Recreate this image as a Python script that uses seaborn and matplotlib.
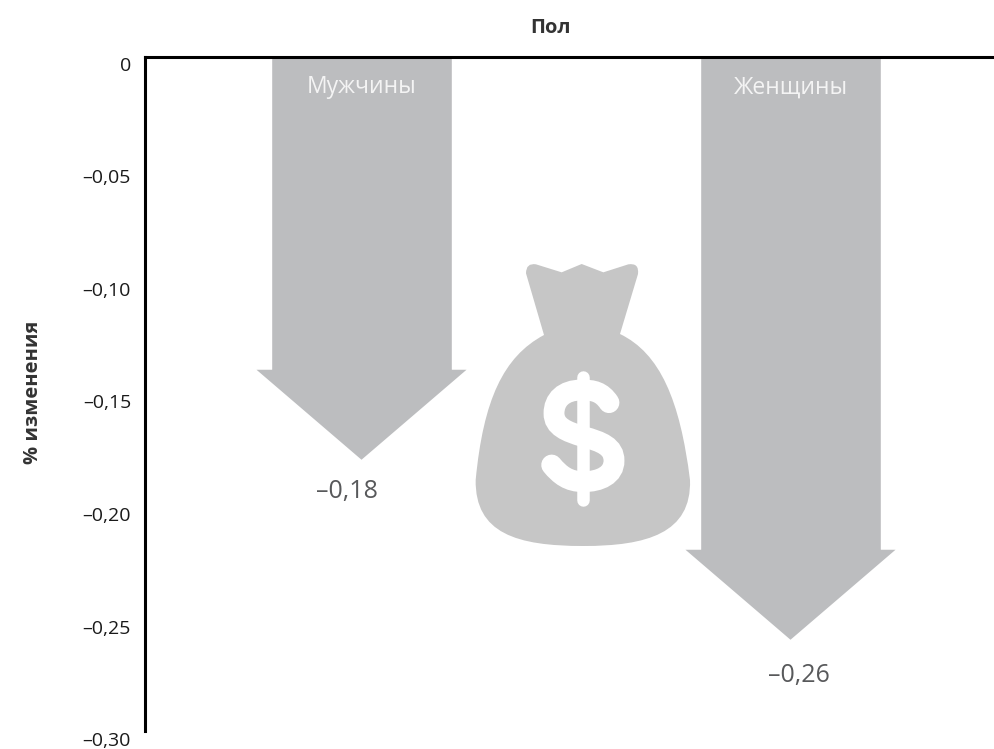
import matplotlib
matplotlib.use("Agg")
import matplotlib.pyplot as plt
from matplotlib.path import Path
from matplotlib.patches import PathPatch
import pandas as pd
import seaborn as sns

categories = ["Мужчины", "Женщины"]
tips = [-0.179, -0.259]
value_labels = ["–0,18", "–0,26"]
ticks = [0, -0.05, -0.10, -0.15, -0.20, -0.25, -0.30]
tick_labels = ["0", "–0,05", "–0,10", "–0,15", "–0,20", "–0,25", "–0,30"]

ARROW = "#bcbdbf"
BAG = "#c6c6c6"
TEXT = "#1a1a1a"
head_len = 0.0395
head_half = 0.2448

W, H = 995, 749
sns.set_style("white")
plt.rcParams["font.family"] = ["Open Sans", "DejaVu Sans"]

fig = plt.figure(figsize=(W / 100, H / 100), dpi=100)
ax = fig.add_axes([145 / W, 1 - 732 / H, 850 / W, 675 / H])

# shaft of each arrow is a bar, the head sits on top of it
df = pd.DataFrame({"cat": categories, "shaft": [t + head_len for t in tips]})
sns.barplot(data=df, x="cat", y="shaft", color=ARROW, saturation=1, width=0.422, ax=ax)
for i, t in enumerate(tips):
    top = t + head_len
    ax.fill([i - head_half, i + head_half, i], [top + 0.0005, top + 0.0005, t], color=ARROW, lw=0)
    ax.text(i - 0.035 if i == 0 else i + 0.02, t - (0.0143 if i == 0 else 0.0157), value_labels[i],
            ha="center", va="center", fontsize=18, color="#58595b")
    ax.text(i, -0.0134, categories[i], ha="center", va="center", fontsize=16.5, color="#f4f4f4")

ax.set_xlim(-0.5047, 1.4767)
ax.set_ylim(-0.30, 0)
ax.set_yticks(ticks)
ax.set_yticklabels(tick_labels, fontsize=14, color=TEXT, va="top")
ax.tick_params(axis="y", length=0, pad=10)
ax.set_xlabel("")
ax.set_ylabel("% изменения", fontsize=14.5, fontweight="bold", color="#333333")
ax.yaxis.set_label_coords((43 - 145) / 850, 1 - (392 - 57) / 675)
ax.set_title("Пол", fontsize=14.5, fontweight="bold", color="#333333", x=(551 - 145) / 850, pad=17)

sns.despine(ax=ax, right=True, bottom=True, top=False)
ax.tick_params(axis="x", length=0, labelbottom=False, labeltop=False)
for side in ["left", "top"]:
    ax.spines[side].set_linewidth(2.2)
    ax.spines[side].set_color("black")
ax.spines["left"].set_bounds(-0.2995, 0)

# money bag icon, in its own little axes
icon = fig.add_axes([460 / W, 1 - 560 / H, 240 / W, 310 / H])
icon.set_xlim(0, 720)
icon.set_ylim(930, 0)
icon.axis("off")
icon.patch.set_alpha(0)
M, L, C, Z = Path.MOVETO, Path.LINETO, Path.CURVE3, Path.CLOSEPOLY
C4 = Path.CURVE4
bag = [(M, (198, 70)), (C, (198, 38)), (C, (228, 43)), (L, (305, 67)), (L, (365, 42)), (L, (430, 67)),
       (L, (505, 43)), (C, (538, 38)), (C, (534, 72)), (L, (480, 252)),
       (C4, (600, 310)), (C4, (660, 450)), (C4, (690, 690)),
       (C4, (695, 850)), (C4, (560, 888)), (C4, (370, 888)),
       (C4, (170, 888)), (C4, (45, 850)), (C4, (47, 690)),
       (C4, (70, 450)), (C4, (130, 320)), (C4, (252, 255)), (L, (198, 70)), (Z, (198, 70))]
icon.add_patch(PathPatch(Path([p for _, p in bag], [c for c, _ in bag]), fc=BAG, lw=0))
s_curve = [(M, (447, 458)), (C4, (425, 425)), (C4, (400, 420)), (C4, (365, 420)),
           (C4, (310, 420)), (C4, (282, 450)), (C4, (282, 490)),
           (C4, (282, 530)), (C4, (320, 545)), (C4, (370, 560)),
           (C4, (425, 575)), (C4, (462, 590)), (C4, (462, 632)),
           (C4, (462, 675)), (C4, (420, 695)), (C4, (370, 695)),
           (C4, (325, 695)), (C4, (300, 675)), (C4, (275, 645))]
icon.add_patch(PathPatch(Path([p for _, p in s_curve], [c for c, _ in s_curve]), fc="none", ec="white",
                         lw=15, capstyle="round"))
icon.plot([370, 370], [382, 750], color="white", lw=9, solid_capstyle="round")

fig.savefig("out.png", dpi=100)
